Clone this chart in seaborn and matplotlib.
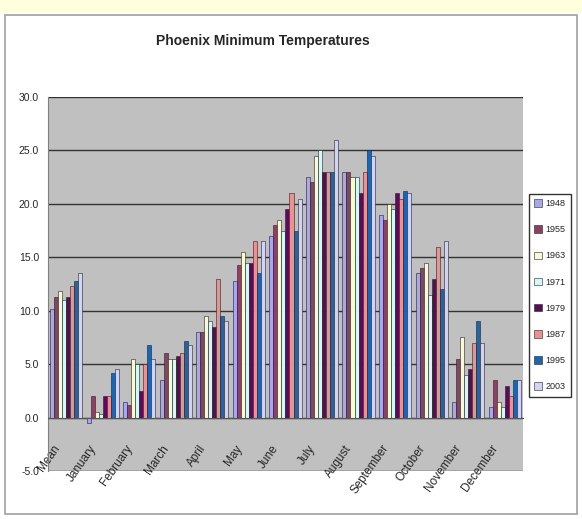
import pandas as pd
import matplotlib.pyplot as plt
import matplotlib.transforms as mtrans
import seaborn as sns
from matplotlib.patches import Rectangle

months = ["Mean", "January", "February", "March", "April", "May", "June",
          "July", "August", "September", "October", "November", "December"]
years = ["1948", "1955", "1963", "1971", "1979", "1987", "1995", "2003"]

t1948 = [10.2, -0.5, 1.5, 3.5, 8.0, 12.8, 17.0, 22.5, 23.0, 19.0, 13.5, 1.5, 1.0]
t1955 = [11.3, 2.0, 1.2, 6.0, 8.0, 14.3, 18.0, 22.0, 23.0, 18.5, 14.0, 5.5, 3.5]
t1963 = [11.8, 0.5, 5.5, 5.5, 9.5, 15.5, 18.5, 24.5, 22.5, 20.0, 14.5, 7.5, 1.5]
t1971 = [11.0, 0.3, 5.0, 5.5, 9.0, 14.5, 17.5, 25.0, 22.5, 19.5, 11.5, 4.0, 1.0]
t1979 = [11.3, 2.0, 2.5, 5.8, 8.5, 14.5, 19.5, 23.0, 21.0, 21.0, 13.0, 4.5, 3.0]
t1987 = [12.3, 2.0, 5.0, 6.0, 13.0, 16.5, 21.0, 23.0, 23.0, 20.5, 16.0, 7.0, 2.0]
t1995 = [12.8, 4.2, 6.8, 7.2, 9.5, 13.5, 17.5, 23.0, 25.0, 21.2, 12.0, 9.0, 3.5]
t2003 = [13.5, 4.5, 5.5, 6.8, 9.0, 16.5, 20.5, 26.0, 24.5, 21.0, 16.5, 7.0, 3.5]

series = [t1948, t1955, t1963, t1971, t1979, t1987, t1995, t2003]
colors = ["#9999FF", "#993366", "#FFFFCC", "#CCFFFF",
          "#660066", "#FF8080", "#0066CC", "#CCCCFF"]

rows = []
for yr, vals in zip(years, series):
    for m, v in zip(months, vals):
        rows.append({"Month": m, "Year": yr, "Temp": v})
df = pd.DataFrame(rows)

sns.set_style("white")
plt.rcParams["font.family"] = ["Liberation Sans", "DejaVu Sans"]

fig = plt.figure(figsize=(5.82, 5.19), dpi=100)
fig.patches.append(Rectangle((0, 0.975), 1, 0.025, transform=fig.transFigure,
                             facecolor="#FFFFDD", edgecolor="none", zorder=0))
fig.patches.append(Rectangle((0.008, 0.01), 0.984, 0.962, transform=fig.transFigure,
                             facecolor="none", edgecolor="#A0A0A0", lw=1.2, zorder=1))

ax = fig.add_axes([0.0825, 0.0925, 0.816, 0.7206])
ax.set_facecolor("#C0C0C0")

sns.barplot(data=df, x="Month", y="Temp", hue="Year", palette=colors,
            width=0.88, edgecolor="#222222", linewidth=0.4, ax=ax)

ax.set_ylim(-5, 30)
ax.set_yticks(range(-5, 31, 5))
ax.set_yticklabels([f"{v:.1f}" for v in range(-5, 31, 5)], fontsize=7.5)
ax.set_xlim(-0.5, len(months) - 0.5)
ax.yaxis.grid(True, color="#333333", linewidth=1.0)
ax.set_axisbelow(True)

for s in ["top", "right"]:
    ax.spines[s].set_visible(False)
ax.spines["left"].set_color("#808080")
ax.spines["bottom"].set_position(("data", 0))
ax.spines["bottom"].set_color("#555555")
ax.spines["bottom"].set_zorder(5)

ax.set_xticks([i + 0.5 for i in range(len(months))], minor=True)
ax.tick_params(axis="x", which="minor", length=4, color="#555555")
ax.tick_params(axis="x", which="major", length=0, pad=18)
ax.set_xticklabels(months, rotation=55, ha="right", va="top",
                   rotation_mode="anchor", fontsize=8.5)
shift = mtrans.ScaledTranslation(-0.14, 0, fig.dpi_scale_trans)
for lbl in ax.get_xticklabels():
    lbl.set_transform(lbl.get_transform() + shift)
ax.tick_params(axis="y", length=3, color="#808080")
ax.set_xlabel("")
ax.set_ylabel("")

ax.legend(loc="center left", bbox_to_anchor=(1.012, 0.47), frameon=True,
          fancybox=False, edgecolor="black", fontsize=6.5, labelspacing=1.9,
          handlelength=0.9, handleheight=0.9, handletextpad=0.4,
          borderpad=0.6, borderaxespad=0)

fig.suptitle("Phoenix Minimum Temperatures", x=0.452, y=0.935,
             fontsize=10, fontweight="bold")

fig.savefig("out.png", dpi=100, facecolor="white")
